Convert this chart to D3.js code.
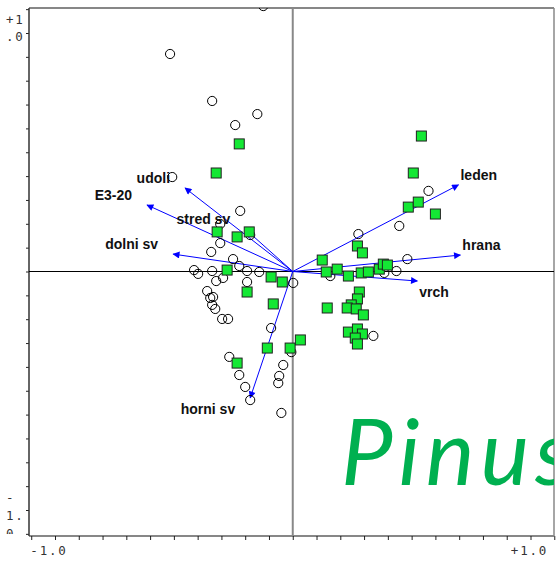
<!DOCTYPE html>
<html><head><meta charset="utf-8">
<script src="https://cdn.jsdelivr.net/npm/d3@7/dist/d3.min.js"></script>
<style>
html,body{margin:0;padding:0;background:#fff;}
svg{display:block;}
</style>
</head><body>
<svg id="c" width="558" height="561"></svg>
<script>
// ---- data ----
const circleX = [-0.124,-0.516,-0.339,-0.149,-0.242,-0.507,-0.221,-0.305,-0.305,-0.179,-0.343,-0.251,-0.225,-0.192,-0.141,-0.415,-0.398,-0.339,-0.322,-0.293,-0.192,-0.360,-0.347,-0.335,-0.339,-0.326,-0.297,-0.272,-0.091,0.002,-0.267,-0.225,-0.200,-0.179,-0.040,-0.057,-0.061,-0.048,-0.006,0.571,0.448,0.276,0.482,0.158,0.385,0.436,0.339];
const circleY = [1.113,0.912,0.715,0.660,0.614,0.396,0.254,0.199,0.119,0.153,0.082,0.052,0.023,0.002,-0.002,0.006,-0.010,0.002,-0.040,-0.027,-0.044,-0.082,-0.111,-0.107,-0.140,-0.157,-0.199,-0.199,-0.237,-0.048,-0.358,-0.434,-0.484,-0.539,-0.392,-0.438,-0.468,-0.593,-0.338,0.338,0.191,0.157,0.052,-0.019,-0.006,0.002,-0.270];
const squareX = [0.541,0.507,-0.322,-0.225,0.486,0.528,0.600,0.272,0.293,0.124,0.141,0.187,0.234,0.288,0.318,0.364,0.381,0.398,0.280,0.272,0.246,0.229,0.267,0.297,0.145,0.234,0.272,0.293,0.263,0.272,-0.318,-0.234,-0.183,-0.276,-0.091,-0.044,-0.192,-0.082,-0.107,-0.234,-0.011,0.032];
const squareY = [0.568,0.413,0.413,0.535,0.270,0.291,0.241,0.107,0.078,0.048,-0.002,0.010,-0.019,-0.006,-0.002,0.010,0.031,0.027,-0.086,-0.115,-0.140,-0.153,-0.157,-0.182,-0.153,-0.254,-0.241,-0.262,-0.279,-0.304,0.166,0.145,0.166,0.006,-0.023,-0.044,-0.086,-0.136,-0.321,-0.384,-0.321,-0.287];
const envNames = ["udoli","E3-20","stred sv","dolni sv","leden","hrana","vrch","horni sv"];
const envX = [-0.453,-0.613,-0.200,-0.503,0.697,0.705,0.524,-0.179];
const envY = [0.350,0.279,0.178,0.073,0.363,0.069,-0.040,-0.530];
const xTickLabels = ["-1.0","+1.0"];
const xTickLabelValues = [-1.0, 1.0];
const yTopLabelLines = ["+1",".0"];
const yBottomLabelLines = ["-","1.","0"];
const speciesName = "Pinus";

// ---- layout ----
const svg = d3.select("#c");
const L = 29, R = 554, T = 8, B = 536;
const x = d3.scaleLinear().domain([-1, 1]).range([55, 530.5]);
const y = d3.scaleLinear().domain([-1, 1]).range([510, 33]);

const defs = svg.append("defs");
defs.append("clipPath").attr("id","plotclip").append("rect")
  .attr("x", L).attr("y", T).attr("width", R - L).attr("height", B - T);
defs.append("clipPath").attr("id","leftlab").append("rect")
  .attr("x", 0).attr("y", 0).attr("width", L - 1).attr("height", 534);
defs.append("marker").attr("id","ah").attr("viewBox","0 0 10 10")
  .attr("refX", 9).attr("refY", 5).attr("markerWidth", 9).attr("markerHeight", 7)
  .attr("markerUnits","userSpaceOnUse").attr("orient","auto")
  .append("path").attr("d","M0,0 L10,5 L0,10 Z").attr("fill","#0000ff");

// ticks
const tickVals = d3.range(-11, 12).map(i => i / 10);
svg.append("g").attr("transform", `translate(0,${B})`)
  .call(d3.axisBottom(x).tickValues(tickVals.filter(v => x(v) >= L - 1 && x(v) <= R + 1)).tickFormat("").tickSize(4).tickSizeOuter(0))
  .call(g => g.select(".domain").remove())
  .call(g => g.selectAll(".tick line").attr("stroke","#222"));
svg.append("g").attr("transform", `translate(${L},0)`)
  .call(d3.axisLeft(y).tickValues(tickVals.filter(v => y(v) >= T - 1 && y(v) <= B + 1)).tickFormat("").tickSize(3).tickSizeOuter(0))
  .call(g => g.select(".domain").remove())
  .call(g => g.selectAll(".tick line").attr("stroke","#222"));

// frame
svg.append("line").attr("x1", L).attr("x2", R).attr("y1", T).attr("y2", T).attr("stroke","#111").attr("stroke-width",1.2);
svg.append("line").attr("x1", L).attr("x2", R).attr("y1", B).attr("y2", B).attr("stroke","#111").attr("stroke-width",1.2);
svg.append("line").attr("x1", L).attr("x2", L).attr("y1", T).attr("y2", B).attr("stroke","#333").attr("stroke-width",1.5);
svg.append("line").attr("x1", R).attr("x2", R).attr("y1", T).attr("y2", B).attr("stroke","#888").attr("stroke-width",1.5);

const plot = svg.append("g").attr("clip-path","url(#plotclip)");

// Pinus text
plot.append("text").attr("x", 341).attr("y", 485)
  .attr("font-family","Lato, 'Open Sans', sans-serif").attr("font-style","italic")
  .attr("font-size", 92).attr("letter-spacing", 6).attr("fill","#00b050").text(speciesName);

// centre lines
plot.append("line").attr("x1", x(0)).attr("x2", x(0)).attr("y1", T).attr("y2", B)
  .attr("stroke","#888").attr("stroke-width",2);
plot.append("line").attr("x1", L).attr("x2", R).attr("y1", y(0)).attr("y2", y(0))
  .attr("stroke","#000").attr("stroke-width",1);

// arrows
const env = envNames.map((n, i) => ({n, x: envX[i], y: envY[i]}));
plot.selectAll("line.arrow").data(env).join("line").attr("class","arrow")
  .attr("x1", x(0)).attr("y1", y(0))
  .attr("x2", d => x(d.x)).attr("y2", d => y(d.y))
  .attr("stroke","#0000ff").attr("stroke-width",1).attr("marker-end","url(#ah)");

// circles
const circles = circleX.map((v, i) => ({x: v, y: circleY[i]}));
plot.selectAll("circle.s").data(circles).join("circle").attr("class","s")
  .attr("cx", d => x(d.x)).attr("cy", d => y(d.y)).attr("r", 4.6)
  .attr("fill","none").attr("stroke","#000").attr("stroke-width",1);

// squares
const squares = squareX.map((v, i) => ({x: v, y: squareY[i]}));
const sq = 10;
plot.selectAll("rect.s").data(squares).join("rect").attr("class","s")
  .attr("x", d => x(d.x) - sq / 2).attr("y", d => y(d.y) - sq / 2)
  .attr("width", sq).attr("height", sq)
  .attr("fill","#14e834").attr("stroke","#222").attr("stroke-width",1);

// env labels
plot.selectAll("text.env").data(env).join("text").attr("class","env")
  .attr("x", d => x(d.x) + (d.x < 0 ? -15 : 2))
  .attr("y", d => y(d.y) + (d.y < -0.02 ? 16 : -5))
  .attr("text-anchor", d => d.x < 0 ? "end" : "start")
  .attr("font-family","'Liberation Sans', Arial, sans-serif").attr("font-weight","bold")
  .attr("font-size", 14).attr("fill","#111").text(d => d.n);

// axis labels
const mono = "'DejaVu Sans Mono', monospace";
svg.selectAll("text.xl").data(xTickLabels).join("text").attr("class","xl")
  .attr("x", (d, i) => x(xTickLabelValues[i]) + (i === 0 ? -6 : -1)).attr("y", 555)
  .attr("text-anchor","middle").attr("font-family", mono).attr("font-size", 12.5)
  .attr("letter-spacing", 1.8).attr("fill","#333").text(d => d);
const ll = svg.append("g").attr("clip-path","url(#leftlab)");
ll.selectAll("text.yt").data(yTopLabelLines).join("text").attr("class","yt")
  .attr("x", 6).attr("y", (d, i) => 24 + i * 17)
  .attr("font-family", mono).attr("font-size", 12.5).attr("letter-spacing", 1.8)
  .attr("fill","#333").text(d => d);
ll.selectAll("text.yb").data(yBottomLabelLines).join("text").attr("class","yb")
  .attr("x", 6).attr("y", (d, i) => 502 + i * 18)
  .attr("font-family", mono).attr("font-size", 12.5).attr("letter-spacing", 1.8)
  .attr("fill","#333").text(d => d);
</script>
</body></html>
